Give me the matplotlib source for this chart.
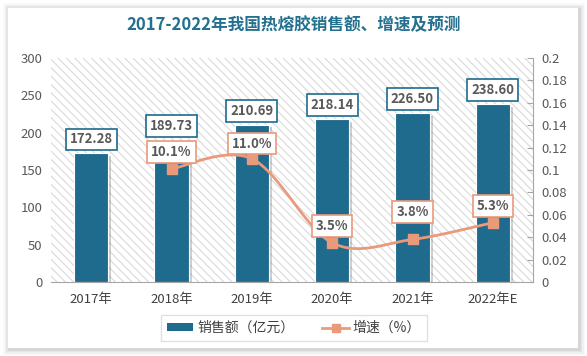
import matplotlib
matplotlib.use("Agg")
import matplotlib.pyplot as plt
import numpy as np
from matplotlib.patches import Rectangle, Patch
from matplotlib.lines import Line2D
import matplotlib.patheffects as pe

plt.rcParams['font.family'] = ['Noto Sans CJK SC', 'DejaVu Sans']
plt.rcParams['hatch.color'] = '#d9d9d9'
plt.rcParams['hatch.linewidth'] = 0.8

# ---- data ----
years = ['2017年', '2018年', '2019年', '2020年', '2021年', '2022年E']
sales = [172.28, 189.73, 210.69, 218.14, 226.50, 238.60]
growth_years = ['2018年', '2019年', '2020年', '2021年', '2022年E']
growth = [0.101, 0.110, 0.035, 0.038, 0.053]
growth_labels = ['10.1%', '11.0%', '3.5%', '3.8%', '5.3%']
left_ticks = [0, 50, 100, 150, 200, 250, 300]
right_ticks = [0, 0.02, 0.04, 0.06, 0.08, 0.1, 0.12, 0.14, 0.16, 0.18, 0.2]
right_tick_labels = ['0', '0.02', '0.04', '0.06', '0.08', '0.1', '0.12', '0.14', '0.16', '0.18', '0.2']

BLUE = '#1f6b8e'
ORANGE = '#e99a7b'
TXT = '#595959'

W, H = 587, 356
fig = plt.figure(figsize=(W / 100, H / 100), dpi=100)
fig.patch.set_facecolor('white')

# card with soft shadow
for i, a in enumerate([0.025, 0.035, 0.045, 0.06]):
    d = (4 - i) * 1.5
    fig.patches.append(Rectangle(((8 - d + 1) / W, (8 - d - 1) / H), (570 + 2 * d) / W, (340 + 2 * d) / H,
                                 transform=fig.transFigure, facecolor='#000000', alpha=a,
                                 edgecolor='none', zorder=0))
fig.patches.append(Rectangle((8 / W, 8 / H), 570 / W, 340 / H, transform=fig.transFigure,
                             facecolor='white', edgecolor='none', zorder=1))

fig.text(0.5, 1 - 25 / H, '2017-2022年我国热熔胶销售额、增速及预测', ha='center', va='center',
         fontsize=12, fontweight='bold', color='#23708f', zorder=5)

ax = fig.add_axes([51 / W, 1 - 282 / H, (533 - 51) / W, (282 - 58) / H], zorder=3)
ax.patch.set_alpha(0)
ax.add_patch(Rectangle((0, 0), 1, 1, transform=ax.transAxes, facecolor='white',
                       hatch='\\\\\\\\', edgecolor='#d9d9d9', lw=0, zorder=0))

x = np.arange(len(years))
bars = ax.bar(x, sales, width=0.43, color=BLUE, edgecolor='white', lw=0.8, zorder=2)
for b in bars:
    b.set_path_effects([pe.SimplePatchShadow(offset=(2, -2), shadow_rgbFace='#777777', alpha=0.35),
                        pe.Normal()])
ax.set_xlim(-0.5, len(years) - 0.5)
ax.set_ylim(0, 300)
ax.set_yticks(left_ticks)
ax.set_xticks(x)
ax.set_xticklabels(years)
ax.tick_params(axis='y', length=0, labelsize=9.5, labelcolor=TXT, pad=6)
ax.tick_params(axis='x', length=0, labelsize=9.5, labelcolor='#404040', pad=8)
for s in ['top', 'left', 'right']:
    ax.spines[s].set_visible(False)
ax.spines['bottom'].set_color('#a6a6a6')

for xi, v in zip(x, sales):
    ax.annotate(f'{v:.2f}', (xi, v), xytext=(0, 10), textcoords='offset points',
                ha='center', va='center', fontsize=9.5, fontweight='bold', color=TXT,
                bbox=dict(boxstyle='square,pad=0.3', facecolor='white', edgecolor=BLUE, lw=1.2),
                zorder=6)

ax2 = ax.twinx()
ax2.set_zorder(4)
ax2.patch.set_alpha(0)
ax2.set_ylim(0, 0.2)
ax2.set_yticks(right_ticks)
ax2.set_yticklabels(right_tick_labels)
ax2.tick_params(axis='y', direction='in', length=4, color='#a6a6a6', labelsize=9.5,
                labelcolor=TXT, pad=6)
for s in ['top', 'left', 'bottom']:
    ax2.spines[s].set_visible(False)
ax2.spines['right'].set_color('#a6a6a6')

gx = np.array([years.index(y) for y in growth_years], dtype=float)
gy = np.array(growth)
# Catmull-Rom smoothing (Excel-like smoothed line)
px = np.concatenate([[2 * gx[0] - gx[1]], gx, [2 * gx[-1] - gx[-2]]])
py = np.concatenate([[gy[0]], gy, [gy[-1]]])
sx, sy = [], []
t = np.linspace(0, 1, 40)
for i in range(1, len(px) - 2):
    p0, p1, p2, p3 = (px[i - 1], py[i - 1]), (px[i], py[i]), (px[i + 1], py[i + 1]), (px[i + 2], py[i + 2])
    if i == 1:
        p0 = p1
    if i == len(px) - 3:
        p3 = p2
    c1 = (p1[0] + (p2[0] - p0[0]) / 6, p1[1] + (p2[1] - p0[1]) / 6)
    c2 = (p2[0] - (p3[0] - p1[0]) / 6, p2[1] - (p3[1] - p1[1]) / 6)
    bx = (1 - t) ** 3 * p1[0] + 3 * (1 - t) ** 2 * t * c1[0] + 3 * (1 - t) * t ** 2 * c2[0] + t ** 3 * p2[0]
    by = (1 - t) ** 3 * p1[1] + 3 * (1 - t) ** 2 * t * c1[1] + 3 * (1 - t) * t ** 2 * c2[1] + t ** 3 * p2[1]
    sx.extend(bx)
    sy.extend(by)
ax2.plot(sx, sy, color=ORANGE, lw=2, zorder=3, solid_capstyle='round')
ax2.plot(gx, gy, ls='none', marker='s', ms=7, color=ORANGE, zorder=4)

offsets = [12, 11, 12, 20, 12]
for xi, v, lab, off in zip(gx, gy, growth_labels, offsets):
    ax2.annotate(lab, (xi, v), xytext=(0, off), textcoords='offset points',
                 ha='center', va='center', fontsize=9.5, fontweight='bold', color=TXT,
                 bbox=dict(boxstyle='square,pad=0.3', facecolor='white', edgecolor=ORANGE, lw=1.2),
                 zorder=6)

handles = [Patch(facecolor=BLUE, edgecolor='none'),
           Line2D([], [], color=ORANGE, lw=2, marker='s', ms=6)]
leg = fig.legend(handles, ['销售额（亿元）', '增速（%）'], loc='center',
                 bbox_to_anchor=(294 / W, 1 - 328 / H), ncol=2, frameon=True, fancybox=False,
                 fontsize=10, edgecolor='#d9d9d9', handlelength=1.9, handleheight=0.5,
                 handletextpad=0.3, columnspacing=2.0, borderpad=0.4, labelcolor='#404040')
leg.get_frame().set_linewidth(1)
leg.set_zorder(6)

fig.savefig('out.png', dpi=100, facecolor=fig.get_facecolor())
